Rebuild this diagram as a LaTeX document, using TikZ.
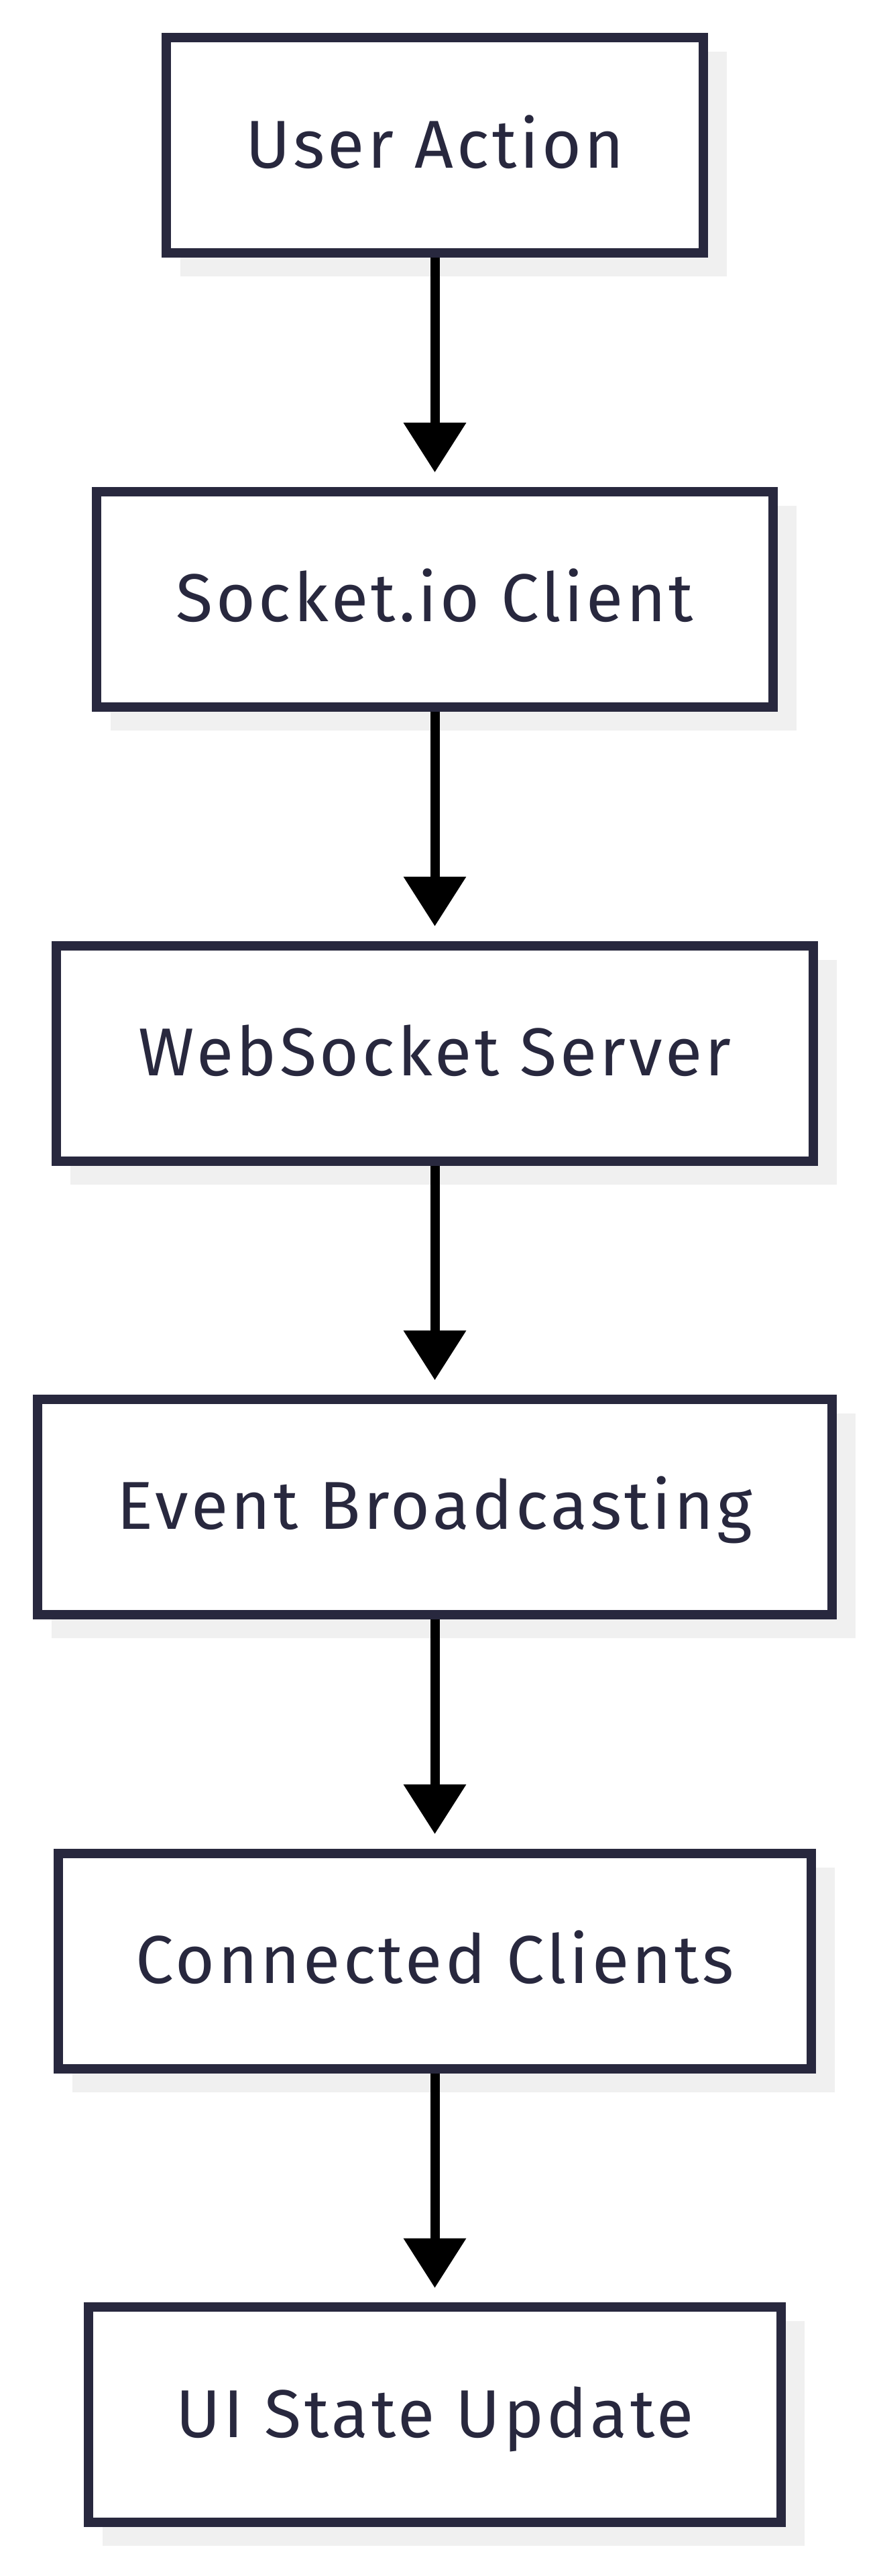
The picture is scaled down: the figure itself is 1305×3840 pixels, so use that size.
\documentclass[tikz,border=0pt]{standalone}
\usepackage{fontspec}
\setmainfont{Fira Sans}[LetterSpace=4.5]
\usetikzlibrary{arrows.meta,backgrounds}
\definecolor{boxdark}{RGB}{40,40,62}
\definecolor{shadowgray}{RGB}{240,240,240}
\begin{document}
\begin{tikzpicture}[x=1pt,y=-1pt,
  stepbox/.style={draw=boxdark, line width=14pt, fill=white, rectangle,
    minimum height=321pt, inner sep=0pt, text=boxdark,
    font=\fontsize{101pt}{120pt}\selectfont,
    text height=76.8pt, text depth=10.1pt},
  flow/.style={draw=black, line width=14pt, -{Triangle[width=90pt,length=74pt]}},
  shadowbox/.style={fill=shadowgray, draw=none}]
\useasboundingbox (0,0) rectangle (1305,3840);

\node[stepbox, minimum width=801pt]    (b1) at (648.5,216.8)  {User Action};
\node[stepbox, minimum width=1009.6pt] (b2) at (648.5,893.4)  {Socket.io Client};
\node[stepbox, minimum width=1129.8pt] (b3) at (648.5,1570.0) {WebSocket Server};
\node[stepbox, minimum width=1184.4pt] (b4) at (648.5,2246.6) {Event Broadcasting};
\node[stepbox, minimum width=1123.2pt] (b5) at (648.5,2923.2) {Connected Clients};
\node[stepbox, minimum width=1032.4pt] (b6) at (648.5,3599.8) {UI State Update};

\begin{scope}[on background layer]
  \fill[white] (0,0) rectangle (1305,3840);
  \foreach \n in {b1,b2,b3,b4,b5,b6}{
    \fill[shadowbox] ([shift={(28,28)}]\n.north west) rectangle ([shift={(28,28)}]\n.south east);
  }
\end{scope}

\draw[flow] (b1.south) -- ([yshift=21.7pt]b2.north);
\draw[flow] (b2.south) -- ([yshift=21.7pt]b3.north);
\draw[flow] (b3.south) -- ([yshift=21.7pt]b4.north);
\draw[flow] (b4.south) -- ([yshift=21.7pt]b5.north);
\draw[flow] (b5.south) -- ([yshift=21.7pt]b6.north);
\end{tikzpicture}
\end{document}
